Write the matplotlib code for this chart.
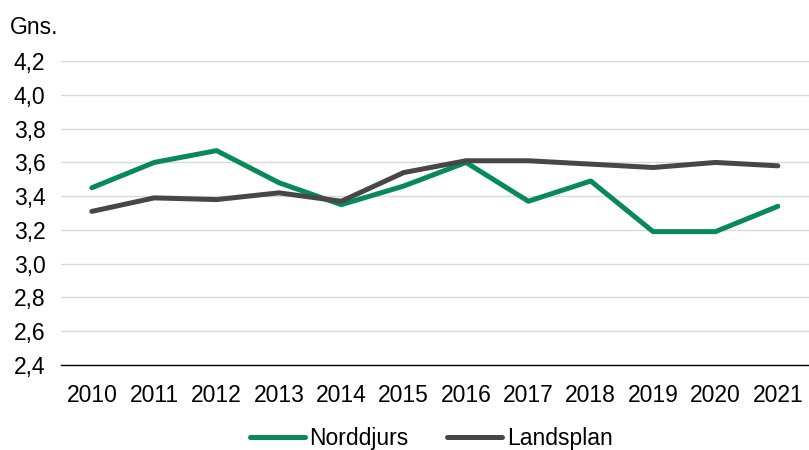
"""
Gennemsnit Norddjurs vs. landsplan, 2010-2021
"""

import matplotlib
matplotlib.use('Agg')
import matplotlib.pyplot as plt
from matplotlib.ticker import FuncFormatter

#---------------------------------------------------------------------------------------------------
# Data
#---------------------------------------------------------------------------------------------------

years = ['2010', '2011', '2012', '2013', '2014', '2015',
         '2016', '2017', '2018', '2019', '2020', '2021']
norddjurs = [3.45, 3.60, 3.67, 3.48, 3.35, 3.46, 3.60, 3.37, 3.49, 3.19, 3.19, 3.34]
landsplan = [3.31, 3.39, 3.38, 3.42, 3.37, 3.54, 3.61, 3.61, 3.59, 3.57, 3.60, 3.58]
yticks = [2.4, 2.6, 2.8, 3.0, 3.2, 3.4, 3.6, 3.8, 4.0, 4.2]

green = '#078a58'
grey = '#474747'

#---------------------------------------------------------------------------------------------------
# Plot
#---------------------------------------------------------------------------------------------------

plt.rcParams['font.family'] = ['Liberation Sans', 'DejaVu Sans']
fs = 16.5

fig = plt.figure(figsize=(8.09, 4.5), dpi=100)
ax = fig.add_axes([0.075, 0.189, 0.925, 0.675])

x = range(len(years))
ax.plot(x, norddjurs, color=green, lw=3.6, solid_capstyle='round', label='Norddjurs', zorder=3)
ax.plot(x, landsplan, color=grey, lw=3.6, solid_capstyle='round', label='Landsplan', zorder=3)

ax.set_xlim(-0.5, len(years) - 0.5)
ax.set_ylim(2.4, 4.2)
ax.set_xticks(list(x))
ax.set_xticklabels(years)
ax.set_yticks(yticks)
ax.yaxis.set_major_formatter(FuncFormatter(lambda v, p: f'{v:.1f}'.replace('.', ',')))

ax.grid(axis='y', color='#d9d9d9', lw=1.0, zorder=0)
for s in ['top', 'right', 'left']:
    ax.spines[s].set_visible(False)
ax.spines['bottom'].set_color('black')
ax.spines['bottom'].set_linewidth(1.0)
ax.tick_params(axis='both', length=0, labelsize=fs, colors='black')
ax.tick_params(axis='y', pad=11)
ax.tick_params(axis='x', pad=14)

fig.text(0.012, 0.938, 'Gns.', fontsize=fs, ha='left', va='center')

fig.legend(loc='center', bbox_to_anchor=(0.533, 0.025), ncols=2, frameon=False,
           fontsize=fs, handlelength=2.4, handletextpad=0.2, columnspacing=1.7)

plt.savefig('out.png', dpi=100)
plt.close()
